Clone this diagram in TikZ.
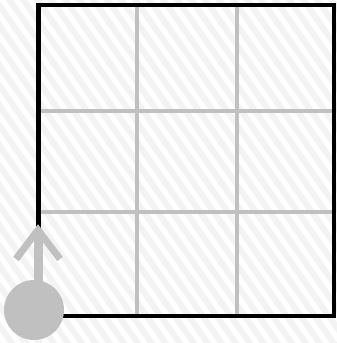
\documentclass[tikz,border=0pt]{standalone}
\definecolor{gridgray}{HTML}{C0C0C0}
\definecolor{stripe}{HTML}{F3F3F3}
\tikzset{
  stripeline/.style={draw=stripe,line width=6pt},
  gridline/.style={draw=gridgray,line width=4pt},
  border/.style={draw=black,line width=4.5pt,line join=miter},
  dot/.style={circle,fill=gridgray,minimum size=60pt,inner sep=0pt},
  shaftline/.style={draw=gridgray,line width=9pt},
  barb/.style={draw=gridgray,line width=7pt,line join=miter},
}
\begin{document}
\begin{tikzpicture}[x=1pt,y=-1pt]
\useasboundingbox (0,0) rectangle (337,343);
\begin{scope}
\clip (0,0) rectangle (337,343);
\fill[white] (0,0) rectangle (337,343);
\foreach \s in {-260,-246,...,350}{
  \draw[stripeline] (\s,-5) -- ++(245,350);
}
\end{scope}
\coordinate (tl) at (38.5,5);
\coordinate (br) at (334,316);
% grid lines
\draw[gridline] (137,5) -- (137,316);
\draw[gridline] (237,5) -- (237,316);
\draw[gridline] (38.5,111) -- (334,111);
\draw[gridline] (38.5,212) -- (334,212);
\draw[border] (tl) rectangle (br);
\node[dot] (start) at (34,310) {};
\coordinate (tip) at (38,230);
\coordinate (base) at (38,300);
\coordinate (barbL) at (16,259);
\coordinate (barbR) at (60,259);
\draw[shaftline] (base) -- (tip);
\draw[barb] (barbL) -- (tip) -- (barbR);
\end{tikzpicture}
\end{document}
